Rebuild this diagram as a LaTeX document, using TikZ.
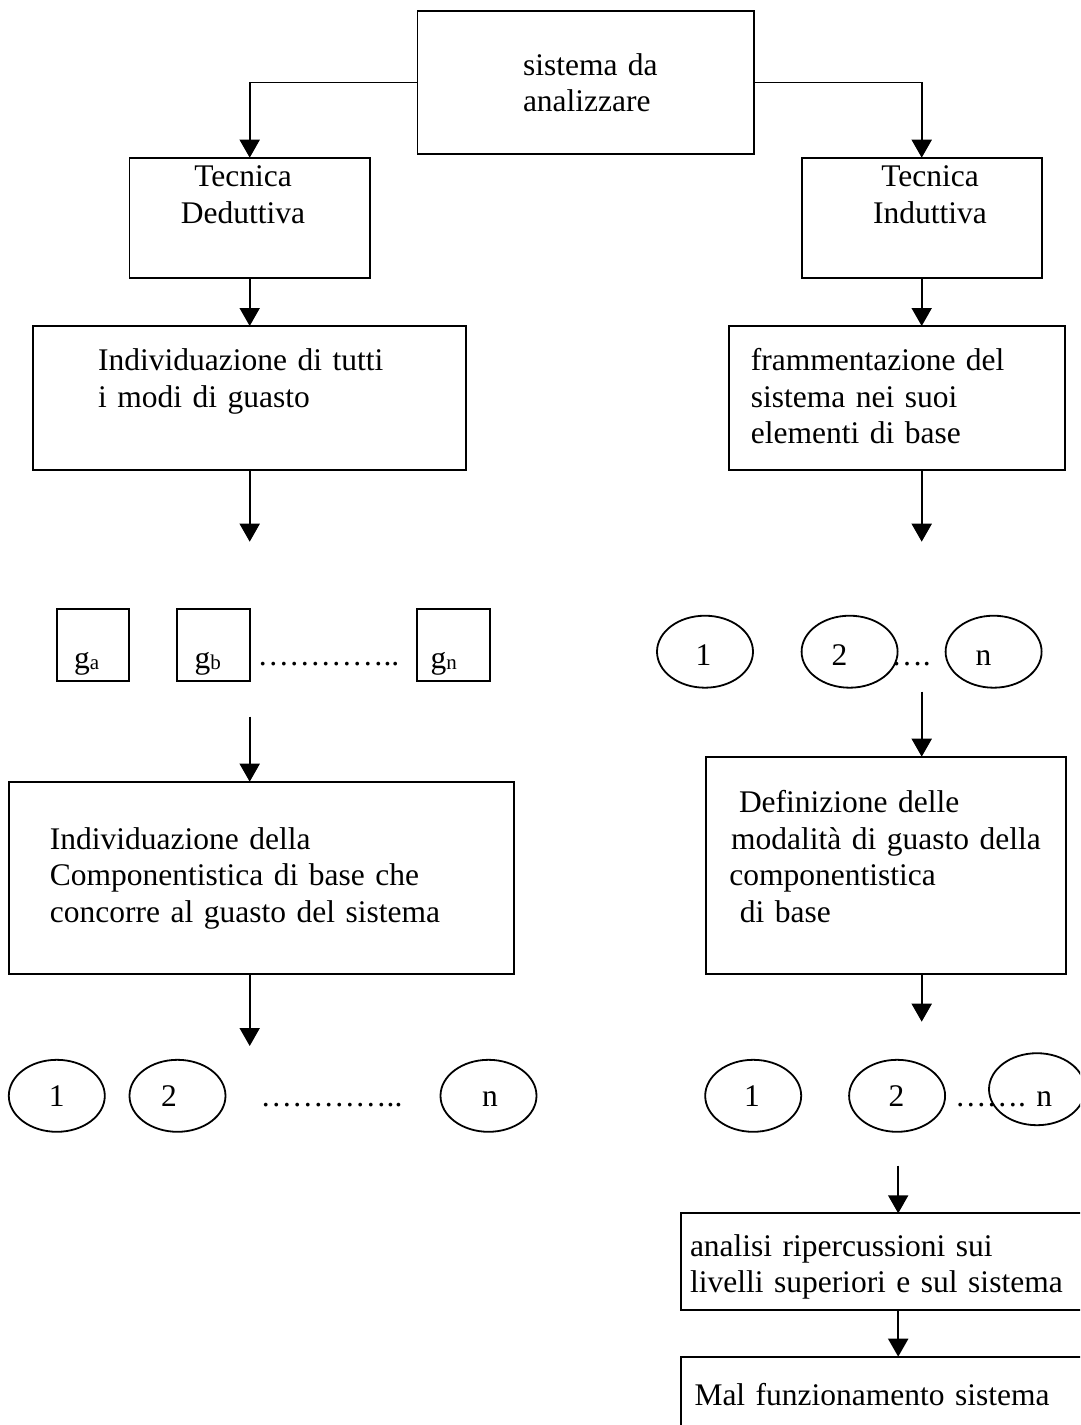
\documentclass[tikz,border=0pt]{standalone}
\usepackage{fontspec}
\setmainfont{Liberation Serif}
\usetikzlibrary{arrows.meta,shapes.geometric}
\newcommand\lowsub[1]{\raisebox{-1.5pt}{\fontsize{21}{21}\selectfont #1}}
\begin{document}
\begin{tikzpicture}[x=1pt,y=-1pt,
  box/.style={draw=black,line width=1.9pt,rectangle,inner sep=0pt,outer sep=0pt},
  oval/.style={draw=black,line width=1.8pt,ellipse,inner sep=0pt,outer sep=0pt,
               minimum width=96pt,minimum height=72pt},
  txt/.style={inner sep=0pt,outer sep=0pt,anchor=base west,align=left,text width=420pt,
              font=\fontsize{31.5}{36.5}\selectfont},
  ctxt/.style={inner sep=0pt,outer sep=0pt,anchor=base,align=center,text width=220pt,
              font=\fontsize{31.5}{36.5}\selectfont},
  num/.style={inner sep=0pt,outer sep=0pt,anchor=base,font=\fontsize{31.5}{36.5}\selectfont},
  arr/.style={line width=1.9pt,-{Triangle[length=18pt,width=20pt]}}]

\fill[white] (0,0) rectangle (1080,1425);
\useasboundingbox (0,0) rectangle (1080,1425);
\clip (0,0) rectangle (1080,1425);

% top box and the two techniques
\node[box,minimum width=336.1pt,minimum height=143.6pt] (sys) at (585.5,82.5) {};
\node[txt] (tsys) at (523,75) {sistema da\\analizzare};

\node[box,minimum width=240.4pt,minimum height=120pt] (ded) at (249.7,217.7) {};
\node[ctxt] (tded) at (243,186.7) {Tecnica\\Deduttiva};

\node[box,minimum width=240.1pt,minimum height=120pt] (indu) at (921.7,217.7) {};
\node[ctxt] (tindu) at (930,186.7) {Tecnica\\Induttiva};

\draw[arr] (sys.west) -| (ded.north);
\draw[arr] (sys.east) -| (indu.north);

% second level
\node[box,minimum width=432.2pt,minimum height=144pt] (ind) at (249.5,398) {};
\node[txt] (tind) at (98.2,370.7) {Individuazione di tutti\\i modi di guasto};

\node[box,minimum width=335.8pt,minimum height=144pt] (fram) at (897.3,398) {};
\node[txt] (tfram) at (750.8,370.7) {frammentazione del\\sistema nei suoi\\elementi di base};

\draw[arr] (ded.south) -- (ind.north -| ded.south);
\draw[arr] (indu.south) -- (fram.north -| indu.south);

\coordinate (l1) at (249.7,541.7);
\coordinate (r1) at (921.7,541.7);
\draw[arr] (ind.south -| l1) -- (l1);
\draw[arr] (fram.south -| r1) -- (r1);

% failure modes g_a ... g_n
\node[box,minimum width=72.4pt,minimum height=72pt] (ga) at (93,645) {};
\node[box,minimum width=72.4pt,minimum height=72pt] (gb) at (213.4,645) {};
\node[box,minimum width=72.4pt,minimum height=72pt] (gn) at (453.6,645) {};
\node[num,anchor=base west] (tga) at (74,668.3) {g\lowsub{a}};
\node[num,anchor=base west] (tgb) at (194.6,668.3) {g\lowsub{b}};
\node[num,anchor=base west] (tgn) at (430.5,668.3) {g\lowsub{n}};
\node[num,anchor=base west] (dg) at (257.6,665) {…………..};

% elements 1 ... n (inductive branch)
\node[oval] (re1) at (705,651.7) {};
\node[oval] (re2) at (849.6,651.7) {};
\node[oval] (ren) at (993.6,651.7) {};
\node[num] (tre1) at (703.6,665) {1};
\node[num] (tre2) at (839.6,665) {2};
\node[num] (tren) at (983.6,665) {n};
\node[num,anchor=base west] (dre) at (891.3,665) {….};

\coordinate (l2) at (249.7,716.7);
\coordinate (r2) at (921.7,691.7);

% third level
\node[box,minimum width=505.6pt,minimum height=192.3pt] (comp) at (261.4,877.85) {};
\node[txt] (tcomp) at (49.9,849.3) {Individuazione della\\Componentistica di base che\\concorre al guasto del sistema};

\node[box,minimum width=360.2pt,minimum height=217.3pt] (def) at (885.8,865.35) {};
\node[txt] (tdef) at (729.4,812.7) {\hspace*{9.6pt}Definizione delle\\\hspace*{1.7pt}modalità di guasto della\\componentistica\\\hspace*{10.4pt}di base};

\draw[arr] (l2) -- (comp.north -| l2);
\draw[arr] (r2) -- (def.north -| r2);

\coordinate (l3) at (249.7,1046);
\coordinate (r3) at (921.7,1021.7);
\draw[arr] (comp.south -| l3) -- (l3);
\draw[arr] (def.south -| r3) -- (r3);

% components 1 ... n (deductive branch)
\node[oval] (le1) at (56.8,1095.8) {};
\node[oval] (le2) at (177.5,1095.8) {};
\node[oval] (len) at (488.5,1095.8) {};
\node[num] (tle1) at (56.8,1106.7) {1};
\node[num] (tle2) at (169,1106.7) {2};
\node[num] (tlen) at (490,1106.7) {n};
\node[num,anchor=base west] (dle) at (260.7,1106.7) {…………..};

% failure modes 1 ... n (inductive branch)
\node[oval] (fe1) at (753.2,1095.8) {};
\node[oval] (fe2) at (897.1,1095.8) {};
\node[oval] (fen) at (1037,1089.2) {};
\node[num] (tfe1) at (752,1106.7) {1};
\node[num] (tfe2) at (896.5,1106.7) {2};
\node[num,anchor=base west] (dfe) at (955,1106.7) {……. n};

% effects on the system
\coordinate (r4) at (898.2,1165.7);
\node[box,minimum width=434.3pt,minimum height=96.7pt] (ana) at (897.85,1261.65) {};
\node[txt] (tana) at (690,1256) {analisi ripercussioni sui\\livelli superiori e sul sistema};

\node[box,minimum width=434.3pt,minimum height=103.3pt] (mal) at (897.85,1408.35) {};
\node[txt] (tmal) at (694.5,1405) {Mal funzionamento sistema};

\draw[arr] (r4) -- (ana.north -| r4);
\draw[arr] (ana.south -| r4) -- (mal.north -| r4);
\end{tikzpicture}
\end{document}
